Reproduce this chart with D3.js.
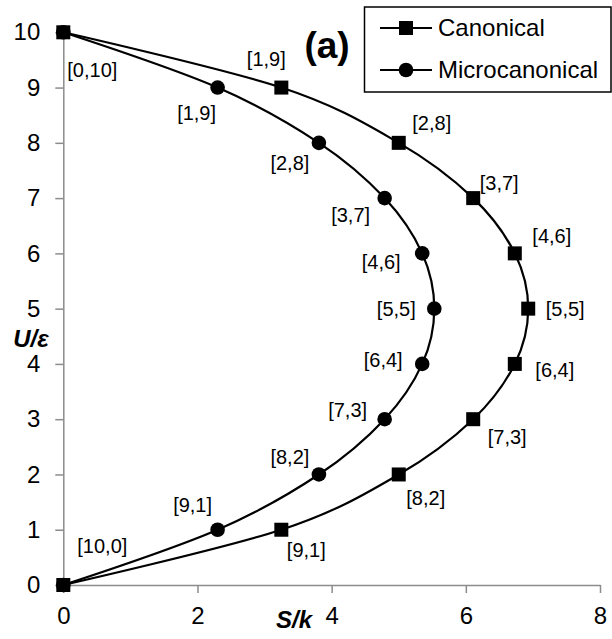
<!DOCTYPE html>
<html>
<head>
<meta charset="utf-8">
<script src="https://cdn.jsdelivr.net/npm/d3@7"></script>
<style>
  html, body { margin: 0; padding: 0; background: #fff; }
  svg { display: block; }
  text { font-family: "Liberation Sans", Arial, sans-serif; fill: #000; }
</style>
</head>
<body>
<svg id="chart" width="612" height="639"></svg>
<script>
// Energy levels U/ε (number of excited units out of 10)
const energies = [0, 1, 2, 3, 4, 5, 6, 7, 8, 9, 10];
// Entropy S/k for each energy level
const canonicalS = [0, 3.25, 5.00, 6.11, 6.73, 6.93, 6.73, 6.11, 5.00, 3.25, 0];
const microcanonicalS = [0, 2.30, 3.81, 4.79, 5.35, 5.53, 5.35, 4.79, 3.81, 2.30, 0];
// Occupation labels [ground, excited] for each level
const occupationLabels = ["[10,0]", "[9,1]", "[8,2]", "[7,3]", "[6,4]", "[5,5]",
                          "[4,6]", "[3,7]", "[2,8]", "[1,9]", "[0,10]"];
const xTicks = [0, 2, 4, 6, 8];
const yTicks = [0, 1, 2, 3, 4, 5, 6, 7, 8, 9, 10];
const seriesNames = ["Canonical", "Microcanonical"];

// Label offsets (px) from each marker, per series
const canonicalLabelOffset = [[39, -39], [25, 20], [27, 24], [34, 18], [40, 6], [37, 0],
                              [37, -17], [26, -15], [33, -20], [-15, -29], [29, 38]];
const microLabelOffset = [null, [-25, -25], [-29, -17], [-37, -9], [-39, -4], [-38, 0],
                          [-41, 9], [-34, 17], [-29, 20], [-21, 25], null];

const svg = d3.select("#chart");
const plotLeft = 63.3, plotRight = 600, plotTop = 32.3, plotBottom = 585;

const x = d3.scaleLinear().domain([0, 8]).range([plotLeft, plotRight]);
const y = d3.scaleLinear().domain([0, 10]).range([plotBottom, plotTop]);

const axisColor = "#8c8c8c";

// X axis
const xAxis = svg.append("g").attr("transform", `translate(0,${plotBottom})`)
  .call(d3.axisBottom(x).tickValues(xTicks).tickSize(8).tickSizeOuter(0).tickPadding(14));
xAxis.select(".domain").attr("stroke", axisColor).attr("stroke-width", 1.5);
xAxis.selectAll(".tick line").attr("stroke", axisColor).attr("stroke-width", 1.5);
xAxis.selectAll(".tick text").attr("font-size", 24).attr("font-family", "Liberation Sans, Arial, sans-serif").attr("fill", "#000");

// Y axis
const yAxis = svg.append("g").attr("transform", `translate(${plotLeft},0)`)
  .call(d3.axisLeft(y).tickValues(yTicks).tickSize(8).tickSizeOuter(0).tickPadding(15));
yAxis.select(".domain").attr("stroke", axisColor).attr("stroke-width", 1.5);
yAxis.selectAll(".tick line").attr("stroke", axisColor).attr("stroke-width", 1.5);
yAxis.selectAll(".tick text").attr("font-size", 24).attr("font-family", "Liberation Sans, Arial, sans-serif").attr("fill", "#000");

// Axis titles
svg.append("text").attr("x", 31).attr("y", 347).attr("text-anchor", "middle")
  .attr("font-size", 24).attr("font-weight", "bold").attr("font-style", "italic").text("U/ε");
svg.append("text").attr("x", 294).attr("y", 628).attr("text-anchor", "middle")
  .attr("font-size", 24).attr("font-weight", "bold").attr("font-style", "italic").text("S/k");

// Smoothed curves
const line = d3.line()
  .x(d => x(d[0])).y(d => y(d[1]))
  .curve(d3.curveCatmullRom.alpha(0));

const canonicalPts = energies.map((u, i) => [canonicalS[i], u]);
const microPts = energies.map((u, i) => [microcanonicalS[i], u]);

[canonicalPts, microPts].forEach(pts => {
  svg.append("path").datum(pts).attr("d", line)
    .attr("fill", "none").attr("stroke", "#000").attr("stroke-width", 2.2);
});

// Markers
svg.append("g").selectAll("circle").data(microPts).join("circle")
  .attr("cx", d => x(d[0])).attr("cy", d => y(d[1])).attr("r", 7.3).attr("fill", "#000");
const sq = 14;
svg.append("g").selectAll("rect").data(canonicalPts).join("rect")
  .attr("x", d => x(d[0]) - sq / 2).attr("y", d => y(d[1]) - sq / 2)
  .attr("width", sq).attr("height", sq).attr("fill", "#000");

// Data labels
const labelG = svg.append("g").attr("font-size", 20).attr("text-anchor", "middle");
canonicalPts.forEach((d, i) => {
  const o = canonicalLabelOffset[i];
  labelG.append("text").attr("x", x(d[0]) + o[0]).attr("y", y(d[1]) + o[1])
    .attr("dy", "0.35em").text(occupationLabels[i]);
});
microPts.forEach((d, i) => {
  const o = microLabelOffset[i];
  if (!o) return;
  labelG.append("text").attr("x", x(d[0]) + o[0]).attr("y", y(d[1]) + o[1])
    .attr("dy", "0.35em").text(occupationLabels[i]);
});

// Panel tag
svg.append("text").attr("x", 327).attr("y", 58).attr("text-anchor", "middle")
  .attr("font-family", "Lato, 'Liberation Sans', sans-serif")
  .attr("font-size", 37).attr("font-weight", "bold").text("(a)");

// Legend
const legend = svg.append("g");
legend.append("rect").attr("x", 364.5).attr("y", 7).attr("width", 246.5).attr("height", 85)
  .attr("fill", "#fff").attr("stroke", "#000").attr("stroke-width", 1.5);
const legendY = [28, 70];
seriesNames.forEach((name, i) => {
  const ly = legendY[i];
  legend.append("line").attr("x1", 380).attr("x2", 432).attr("y1", ly).attr("y2", ly)
    .attr("stroke", "#000").attr("stroke-width", 2.2);
  if (i === 0) {
    legend.append("rect").attr("x", 406 - sq / 2).attr("y", ly - sq / 2)
      .attr("width", sq).attr("height", sq).attr("fill", "#000");
  } else {
    legend.append("circle").attr("cx", 406).attr("cy", ly).attr("r", 7.3).attr("fill", "#000");
  }
  legend.append("text").attr("x", 438).attr("y", ly).attr("dy", "0.35em")
    .attr("font-size", 24).text(name);
});
</script>
</body>
</html>
